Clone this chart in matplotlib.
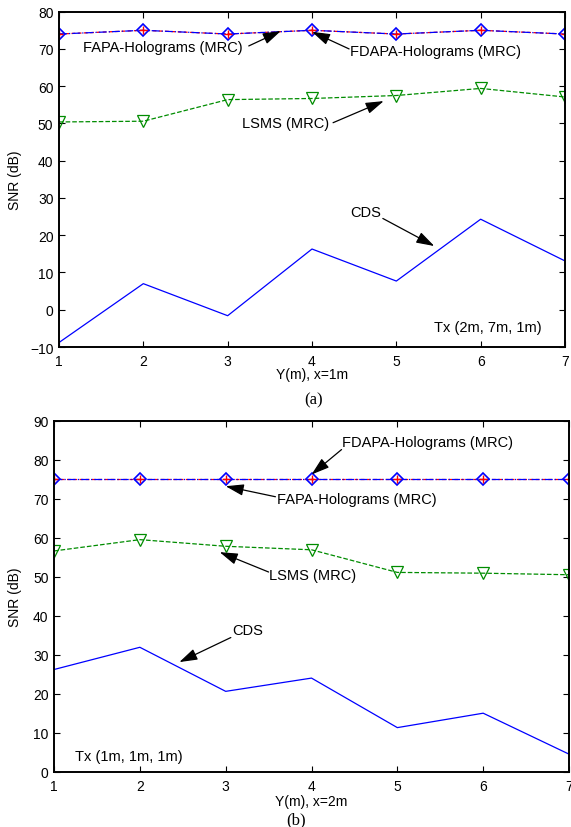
import numpy as np
import matplotlib
matplotlib.use("Agg")
import matplotlib.pyplot as plt

plt.rcParams['font.family'] = ['Liberation Sans', 'DejaVu Sans']
plt.rcParams['font.size'] = 10

# ---- data ------------------------------------------------------------------
y_pos = [1, 2, 3, 4, 5, 6, 7]

# (a) x = 1m, Tx (2m, 7m, 1m)
a_fdapa = [74.0, 75.0, 74.0, 75.0, 74.0, 75.0, 74.0]
a_fapa = [74.0, 75.0, 74.0, 75.0, 74.0, 75.0, 74.0]
a_lsms = [50.4, 50.6, 56.4, 56.7, 57.5, 59.4, 57.1]
a_cds = [-8.8, 7.0, -1.6, 16.3, 7.7, 24.3, 13.1]

# (b) x = 2m, Tx (1m, 1m, 1m)
b_fdapa = [75.0, 75.0, 75.0, 75.0, 75.0, 75.0, 75.0]
b_fapa = [75.0, 75.0, 75.0, 75.0, 75.0, 75.0, 75.0]
b_lsms = [56.6, 59.5, 57.8, 56.9, 51.1, 50.9, 50.5]
b_cds = [26.2, 31.9, 20.6, 24.0, 11.3, 15.0, 4.5]

GREEN = (0.0, 0.55, 0.0)
ARROW = dict(arrowstyle='-|>,head_length=1.1,head_width=0.35', color='k',
             lw=0.9, mutation_scale=10, shrinkA=0, shrinkB=0)


def draw_panel(ax, fdapa, fapa, lsms, cds, ylim):
    ax.plot(y_pos, cds, '-', color='b', lw=0.9)
    ax.plot(y_pos, lsms, '--', color=GREEN, lw=0.9, marker='v', ms=8,
            mfc='none', mec=GREEN, mew=0.9)
    ax.plot(y_pos, fapa, '--', color='r', lw=0.9, dashes=(3, 2))
    ax.plot(y_pos, fdapa, '-.', color='b', lw=0.9, marker='D', ms=6,
            mfc='none', mec='b', mew=1.2)
    ax.plot(y_pos, fapa, 'none', marker='+', ms=6, mec='r', mew=1.0)
    ax.set_xlim(1, 7)
    ax.set_ylim(*ylim)
    ax.set_xticks(y_pos)
    ax.set_yticks(np.arange(ylim[0], ylim[1] + 1, 10))
    ax.tick_params(direction='in', top=True, right=True, length=4,
                   width=0.8, labelsize=10)
    ax.tick_params(axis='x', pad=5)
    ax.tick_params(axis='y', pad=4)
    for s in ax.spines.values():
        s.set_linewidth(1.4)
    ax.set_ylabel('SNR (dB)', fontsize=10)


def note(ax, txt, left, y, tail=None, tip=None):
    ax.text(left, y, txt, ha='left', va='center', fontsize=10.5)
    if tail is not None:
        ax.annotate('', xy=tip, xytext=tail, arrowprops=ARROW)


fig = plt.figure(figsize=(5.71, 8.28), dpi=100)

# ---- (a) ---------------------------------------------------------------------
ax1 = fig.add_axes([0.1033, 0.5797, 0.8862, 0.4050])
draw_panel(ax1, a_fdapa, a_fapa, a_lsms, a_cds, (-10, 80))
note(ax1, 'FAPA-Holograms (MRC)', 1.29, 70.6, (3.25, 70.8), (3.63, 74.8))
note(ax1, 'FDAPA-Holograms (MRC)', 4.45, 69.5, (4.44, 70.0), (4.0, 74.6))
note(ax1, 'LSMS (MRC)', 3.17, 50.0, (4.25, 50.2), (4.85, 56.0))
note(ax1, 'CDS', 4.45, 26.3, (4.84, 24.5), (5.45, 17.1))
note(ax1, 'Tx (2m, 7m, 1m)', 5.45, -4.5)
ax1.set_xlabel('Y(m), x=1m', fontsize=10)
ax1.xaxis.set_label_coords(0.5, -0.081)
ax1.xaxis.label.set_va('center')
ax1.yaxis.set_label_coords(-0.073, 0.5)
fig.text(314 / 571, 1 - 400 / 828, '(a)', ha='center', va='center',
         family='Liberation Serif', fontsize=12)

# ---- (b) ---------------------------------------------------------------------
ax2 = fig.add_axes([0.0946, 0.0668, 0.9019, 0.4239])
draw_panel(ax2, b_fdapa, b_fapa, b_lsms, b_cds, (0, 90))
note(ax2, 'FDAPA-Holograms (MRC)', 4.35, 84.5, (4.35, 82.6), (4.0, 76.2))
note(ax2, 'FAPA-Holograms (MRC)', 3.60, 70.0, (3.58, 70.5), (3.0, 73.2))
note(ax2, 'LSMS (MRC)', 3.51, 50.5, (3.50, 51.2), (2.93, 56.3))
note(ax2, 'CDS', 3.08, 36.4, (3.06, 34.4), (2.46, 28.1))
note(ax2, 'Tx (1m, 1m, 1m)', 1.24, 3.9)
ax2.set_xlabel('Y(m), x=2m', fontsize=10)
ax2.xaxis.set_label_coords(0.5, -0.083)
ax2.xaxis.label.set_va('center')
ax2.yaxis.set_label_coords(-0.062, 0.5)
fig.text(296 / 571, 1 - 820 / 828, '(b)', ha='center', va='center',
         family='Liberation Serif', fontsize=12)

fig.savefig('out.png', dpi=100)
